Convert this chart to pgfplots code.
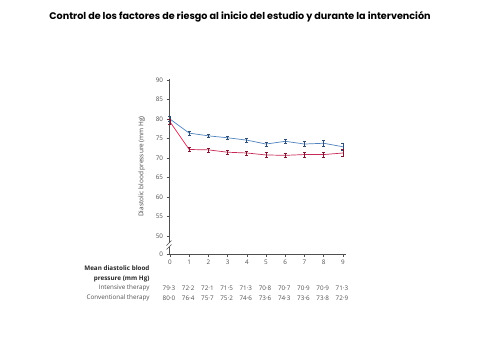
\documentclass[border=0pt]{standalone}
\usepackage{pgfplots}
\pgfplotsset{compat=1.18}
\usepackage{fontspec}
\setmainfont{Open Sans}
\newfontfamily\titlefont{Poppins}
\definecolor{convblue}{RGB}{80,130,190}
\definecolor{intred}{RGB}{200,40,85}
\definecolor{txtgray}{RGB}{80,80,80}
\begin{document}
\begin{tikzpicture}[x=1pt,y=1pt]
\path[use as bounding box] (0,0) rectangle (480,360);
\node[font=\titlefont\bfseries\fontsize{9.6}{11}\selectfont] at (240,343) {Control de los factores de riesgo al inicio del estudio y durante la intervención};
\begin{axis}[
  at={(169pt,106pt)}, anchor=south west,
  scale only axis, width=176.8pt, height=175.1pt,
  xmin=-0.05, xmax=9.15, ymin=45.4, ymax=90.3,
  axis lines=left, axis line style={-, txtgray, line width=0.5pt},
  xtick={0,...,9}, ytick={45.4,50,55,60,65,70,75,80,85,90},
  yticklabels={0,50,55,60,65,70,75,80,85,90},
  tick align=outside, major tick length=2.5pt,
  tick style={txtgray, line width=0.4pt},
  ticklabel style={font=\fontsize{6.3}{7}\selectfont, text=txtgray},
  /pgf/number format/assume math mode=true,
  ylabel={Diastolic blood pressure (mm Hg)},
  ylabel style={font=\fontsize{6.5}{7}\selectfont, text=txtgray!85!black, yshift=4pt},
  clip=false,
]
\addplot[convblue, line width=0.7pt, mark=none,
  error bars/.cd, y dir=both, y explicit,
  error bar style={line width=0.7pt, convblue!60!black},
  error mark options={rotate=90, mark size=1.5pt, line width=0.6pt}]
  coordinates {(0,80.0) +- (0,0.6) (1,76.4) +- (0,0.5) (2,75.7) +- (0,0.5) (3,75.2) +- (0,0.5) (4,74.6) +- (0,0.5) (5,73.6) +- (0,0.5) (6,74.3) +- (0,0.6) (7,73.6) +- (0,0.6) (8,73.8) +- (0,0.7) (9,72.9) +- (0,0.9)};
\addplot[intred, line width=0.7pt, mark=none,
  error bars/.cd, y dir=both, y explicit,
  error bar style={line width=0.7pt, intred!60!black},
  error mark options={rotate=90, mark size=1.5pt, line width=0.6pt}]
  coordinates {(0,79.3) +- (0,0.6) (1,72.2) +- (0,0.5) (2,72.1) +- (0,0.5) (3,71.5) +- (0,0.5) (4,71.3) +- (0,0.5) (5,70.8) +- (0,0.6) (6,70.7) +- (0,0.6) (7,70.9) +- (0,0.6) (8,70.9) +- (0,0.7) (9,71.3) +- (0,0.9)};
% axis break
\fill[white] ([xshift=-3pt]axis cs:-0.05,47.2) rectangle ([xshift=3pt]axis cs:-0.05,48.2);
\draw[txtgray, line width=0.5pt] ([xshift=-2.5pt,yshift=-2.5pt]axis cs:-0.05,47.2) -- ([xshift=2.5pt,yshift=2.5pt]axis cs:-0.05,47.2);
\draw[txtgray, line width=0.5pt] ([xshift=-2.5pt,yshift=-2.5pt]axis cs:-0.05,48.2) -- ([xshift=2.5pt,yshift=2.5pt]axis cs:-0.05,48.2);
\end{axis}
% table
\node[anchor=east, align=right, font=\bfseries\fontsize{6.3}{10}\selectfont, text=black!85] at (153,86) {Mean diastolic blood\\pressure (mm Hg)};
\node[anchor=east, font=\fontsize{6.3}{7}\selectfont, text=txtgray] at (153,72) {Intensive therapy};
\node[anchor=east, font=\fontsize{6.3}{7}\selectfont, text=txtgray] at (153,62) {Conventional therapy};
\foreach \x/\v in {0/79·3,1/72·2,2/72·1,3/71·5,4/71·3,5/70·8,6/70·7,7/70·9,8/70·9,9/71·3}
  \node[font=\fontsize{6.3}{7}\selectfont, text=txtgray] at ({168+(\x+0.05)*19.2174},72) {\v};
\foreach \x/\v in {0/80·0,1/76·4,2/75·7,3/75·2,4/74·6,5/73·6,6/74·3,7/73·6,8/73·8,9/72·9}
  \node[font=\fontsize{6.3}{7}\selectfont, text=txtgray] at ({168+(\x+0.05)*19.2174},62) {\v};
\end{tikzpicture}
\end{document}
